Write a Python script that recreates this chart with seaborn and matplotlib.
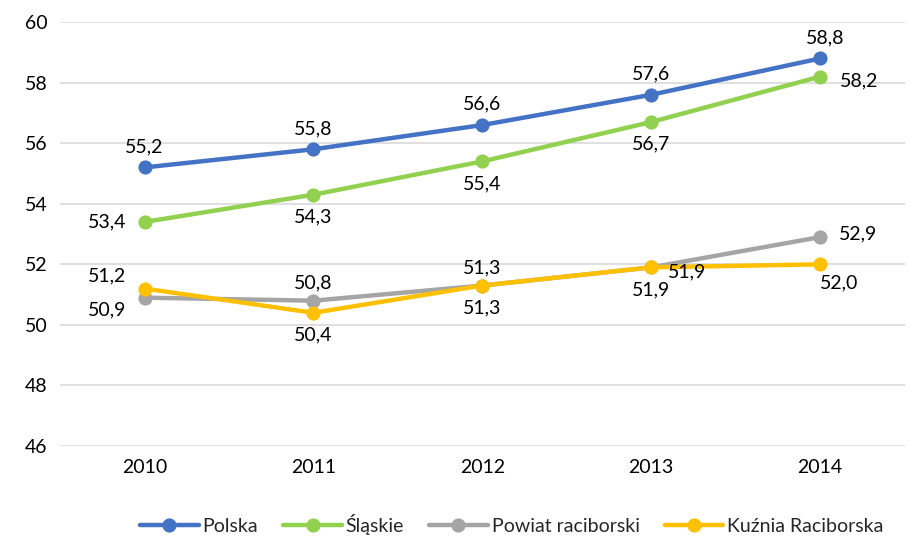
import numpy as np
import pandas as pd
import matplotlib
matplotlib.use('Agg')
import matplotlib.pyplot as plt
import seaborn as sns

sns.set_style('white')
plt.rcParams['font.family'] = ['Lato', 'DejaVu Sans']

# dane
years = [2010, 2011, 2012, 2013, 2014]
polska = [55.2, 55.8, 56.6, 57.6, 58.8]
slaskie = [53.4, 54.3, 55.4, 56.7, 58.2]
powiat = [50.9, 50.8, 51.3, 51.9, 52.9]
kuznia = [51.2, 50.4, 51.3, 51.9, 52.0]
series_names = ['Polska', 'Śląskie', 'Powiat raciborski', 'Kuźnia Raciborska']

df = pd.DataFrame({'Rok': [str(y) for y in years] * 4,
                   'Wartość': polska + slaskie + powiat + kuznia,
                   'Seria': np.repeat(series_names, len(years))})

colors = {'Polska': '#4472C4', 'Śląskie': '#92D050',
          'Powiat raciborski': '#A5A5A5', 'Kuźnia Raciborska': '#FFC000'}

# przesunięcia etykiet (w punktach)
offsets = {
    'Polska': [(0, 15), (0, 15), (0, 15), (0, 15), (4, 15)],
    'Śląskie': [(-27, 0), (0, -16), (0, -16), (0, -16), (28, -3)],
    'Powiat raciborski': [(-27, -9), (0, 13), (0, 13), (26, -3), (27, 2)],
    'Kuźnia Raciborska': [(-27, 9), (0, -16), (0, -16), (0, -16), (14, -13)],
}

fig = plt.figure(figsize=(9.1, 5.39), dpi=100)
ax = fig.add_axes([0.066, 0.1725, 0.928, 0.7865])

sns.lineplot(data=df, x='Rok', y='Wartość', hue='Seria', palette=colors,
             marker='o', markersize=9, linewidth=3.2, markeredgewidth=1.2, ax=ax,
             sort=False)

# jasniejsza obwódka markerów dla Polski
for line in ax.lines:
    if line.get_label() == 'Polska':
        line.set_markeredgecolor('#5B9BD5')
    else:
        line.set_markeredgecolor(line.get_color())

for name, vals in zip(series_names, [polska, slaskie, powiat, kuznia]):
    for i, v in enumerate(vals):
        ax.annotate(f'{v:.1f}'.replace('.', ','), (i, v),
                    xytext=offsets[name][i], textcoords='offset points',
                    ha='center', va='center', fontsize=14, color='#000000')

ax.set_ylim(46, 60)
ax.set_yticks(range(46, 61, 2))
ax.set_xlim(-0.5, 4.5)
ax.set_xlabel('')
ax.set_ylabel('')
ax.grid(axis='y', color='#D9D9D9', linewidth=1.2)
ax.set_axisbelow(True)
for s in ax.spines.values():
    s.set_visible(False)
ax.tick_params(axis='both', length=0, labelsize=14, colors='#000000', pad=9)

handles, labels = ax.get_legend_handles_labels()
for h in handles:
    h.set_markeredgecolor(h.get_color())
ax.legend(handles, labels, loc='lower center', bbox_to_anchor=(0.535, -0.25),
          ncol=4, frameon=False, fontsize=14, handlelength=3.0,
          handletextpad=0.2, columnspacing=1.3)

plt.savefig('out.png', dpi=100)
